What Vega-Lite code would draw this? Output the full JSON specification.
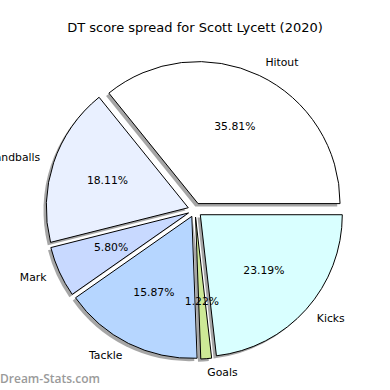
{
  "$schema": "https://vega.github.io/schema/vega-lite/v6.json",
  "width": 390,
  "height": 358,
  "autosize": {"type": "none"},
  "padding": {"top": 32, "left": 0, "right": 0, "bottom": 0},
  "background": "white",
  "title": {
    "text": "DT score spread for Scott Lycett (2020)",
    "font": "DejaVu Sans",
    "fontSize": 13,
    "fontWeight": "normal",
    "color": "#000000",
    "offset": 0,
    "dy": 3,
    "anchor": "middle"
  },
  "config": {"view": {"stroke": null}},
  "data": {
    "values": [
      {"label": "Hitout", "pct": 35.81},
      {"label": "Handballs", "pct": 18.11},
      {"label": "Mark", "pct": 5.80},
      {"label": "Tackle", "pct": 15.87},
      {"label": "Goals", "pct": 1.22},
      {"label": "Kicks", "pct": 23.19}
    ]
  },
  "transform": [{"window": [{"op": "row_number", "as": "rank"}]}],
  "encoding": {
    "theta": {"field": "pct", "type": "quantitative", "stack": true, "scale": {"range": [1.5708, 7.854]}},
    "order": {"field": "rank", "type": "quantitative", "sort": "descending"}
  },
  "layer": [
    {
      "mark": {
        "type": "arc",
        "outerRadius": 142,
        "fill": "#4d4d4d",
        "opacity": 0.5,
        "x": {"expr": "width/2 - 2.8 + 7.1*sin(PI/2 + PI*(datum.pct_start + datum.pct_end)/100)"},
        "y": {"expr": "height/2 - 1 + 2.8 - 7.1*cos(PI/2 + PI*(datum.pct_start + datum.pct_end)/100)"}
      }
    },
    {
      "mark": {
        "type": "arc",
        "outerRadius": 142,
        "stroke": "#000000",
        "strokeWidth": 1,
        "x": {"expr": "width/2 + 7.1*sin(PI/2 + PI*(datum.pct_start + datum.pct_end)/100)"},
        "y": {"expr": "height/2 - 1 - 7.1*cos(PI/2 + PI*(datum.pct_start + datum.pct_end)/100)"}
      },
      "encoding": {
        "color": {
          "field": "label",
          "type": "nominal",
          "legend": null,
          "scale": {
            "domain": ["Hitout", "Handballs", "Mark", "Tackle", "Goals", "Kicks"],
            "range": ["#ffffff", "#e9f0ff", "#c8d9ff", "#b6d6ff", "#cde996", "#d9ffff"]
          }
        }
      }
    },
    {
      "mark": {
        "type": "text",
        "radius": 85.2,
        "font": "DejaVu Sans",
        "fontSize": 10.8,
        "color": "#000000",
        "align": "center",
        "baseline": "middle",
        "text": {"expr": "format(datum.pct, '.2f') + '%'"},
        "x": {"expr": "width/2 + 7.1*sin(PI/2 + PI*(datum.pct_start + datum.pct_end)/100)"},
        "y": {"expr": "height/2 - 1 - 7.1*cos(PI/2 + PI*(datum.pct_start + datum.pct_end)/100)"}
      }
    },
    {
      "mark": {
        "type": "text",
        "radius": 156.2,
        "font": "DejaVu Sans",
        "fontSize": 10.8,
        "color": "#000000",
        "baseline": "middle",
        "align": {"expr": "sin(PI/2 + PI*(datum.pct_start + datum.pct_end)/100) > 0 ? 'left' : 'right'"},
        "x": {"expr": "width/2 + 7.1*sin(PI/2 + PI*(datum.pct_start + datum.pct_end)/100)"},
        "y": {"expr": "height/2 - 1 - 7.1*cos(PI/2 + PI*(datum.pct_start + datum.pct_end)/100)"}
      },
      "encoding": {"text": {"field": "label"}}
    },
    {
      "data": {"values": [{"note": "Dream-Stats.com"}]},
      "transform": [],
      "mark": {
        "type": "text",
        "x": 0,
        "y": "height",
        "dx": 0,
        "dy": -11,
        "align": "left",
        "baseline": "middle",
        "font": "Open Sans",
        "fontWeight": 600,
        "fontSize": 12,
        "color": "#9a9a9a"
      },
      "encoding": {"text": {"field": "note"}, "theta": null, "order": null}
    }
  ]
}
